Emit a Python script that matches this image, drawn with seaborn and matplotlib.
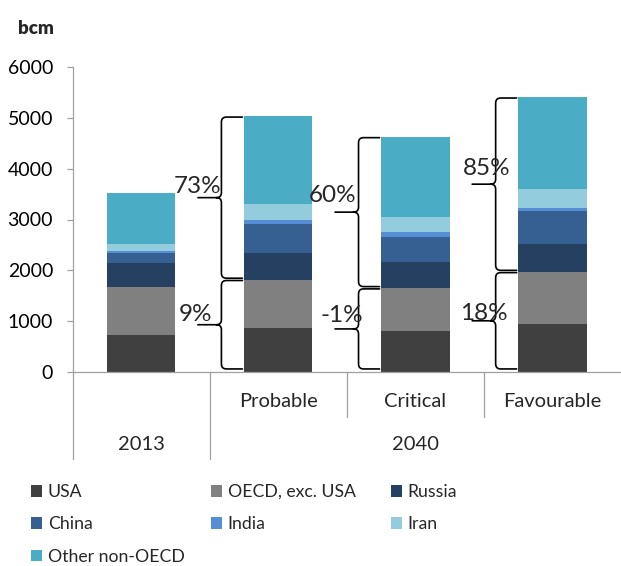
import numpy as np
import matplotlib
matplotlib.use("Agg")
import matplotlib.pyplot as plt
from matplotlib.path import Path
from matplotlib.patches import PathPatch, Patch
import seaborn as sns

# ---- data (bcm) ----
scenarios = ["2013", "Probable", "Critical", "Favourable"]
scenario_labels = ["", "Probable", "Critical", "Favourable"]
year_groups = ["2013", "2040"]
regions = ["USA", "OECD, exc. USA", "Russia", "China", "India", "Iran", "Other non-OECD"]

usa = [730, 860, 800, 945]
oecd_ex_usa = [940, 955, 850, 1025]
russia = [470, 525, 505, 555]
china = [200, 570, 505, 650]
india = [45, 85, 85, 60]
iran = [130, 315, 295, 370]
other_non_oecd = [1015, 1725, 1590, 1805]

colors = ["#404040", "#808080", "#254061", "#376092", "#558ED5", "#93CDDD", "#4BACC6"]
yticks = [0, 1000, 2000, 3000, 4000, 5000, 6000]

sns.set_style("white")
plt.rcParams["font.family"] = ["Lato", "DejaVu Sans"]

W, H = 621, 566
fig = plt.figure(figsize=(W / 100, H / 100), dpi=100)
ax_left, ax_bottom, ax_top = 72.5, 372, 67
ax = fig.add_axes([ax_left / W, (H - ax_bottom) / H, (W - ax_left) / W, (ax_bottom - ax_top) / H])

layers = np.array([usa, oecd_ex_usa, russia, china, india, iran, other_non_oecd], dtype=float)
cum = layers.cumsum(axis=0)

# stacked bars: draw cumulative totals from the top layer down
for k in range(len(regions) - 1, -1, -1):
    sns.barplot(x=scenarios, y=cum[k], order=scenarios, color=colors[k], width=0.5,
                saturation=1, linewidth=0, errorbar=None, ax=ax)

ax.set_xlim(-0.5, 3.5)
ax.set_ylim(0, 6000)
ax.set_yticks(yticks)
ax.set_yticklabels([str(t) for t in yticks])
ax.set_xlabel("")
ax.set_ylabel("")
ax.set_xticks([])

axis_grey = "#A0A0A0"
for side in ["top", "right"]:
    ax.spines[side].set_visible(False)
for side in ["left", "bottom"]:
    ax.spines[side].set_color(axis_grey)
    ax.spines[side].set_linewidth(0.9)
ax.tick_params(axis="y", direction="out", length=4, width=0.9, color=axis_grey,
               pad=10, labelsize=14, labelcolor="black", left=True)

# pixel -> data helpers
px_x = 4.0 / (W - ax_left)
px_y = 6000.0 / (ax_bottom - ax_top)

# category axis: separators and two label rows
xtr = ax.get_xaxis_transform()
for xs, depth in [(-0.5, -0.285), (0.5, -0.285), (1.5, -0.147), (2.5, -0.147)]:
    ax.plot([xs, xs], [0, depth], transform=xtr, clip_on=False, color=axis_grey, lw=0.9)
for i, lab in enumerate(scenario_labels):
    if lab:
        ax.text(i, -0.097, lab, transform=xtr, ha="center", va="center", fontsize=14.5)
ax.text(0, -0.239, year_groups[0], transform=xtr, ha="center", va="center", fontsize=14.5)
ax.text(2, -0.239, year_groups[1], transform=xtr, ha="center", va="center", fontsize=14.5)

fig.text(36 / W, 1 - 28 / H, "bcm", ha="center", va="center", fontsize=13.5, fontweight="heavy")


def draw_brace(ax, x_line, x_right, x_tip, y0, y1, rx, ry):
    mid = (y0 + y1) / 2
    verts = [
        (x_right, y1), (x_line + rx, y1),
        (x_line, y1), (x_line, y1 - ry),
        (x_line, mid + ry),
        (x_line, mid), (x_line - rx, mid),
        (x_tip, mid),
        (x_line - rx, mid),
        (x_line, mid), (x_line, mid - ry),
        (x_line, y0 + ry),
        (x_line, y0), (x_line + rx, y0),
        (x_right, y0),
    ]
    codes = [
        Path.MOVETO, Path.LINETO,
        Path.CURVE3, Path.CURVE3,
        Path.LINETO,
        Path.CURVE3, Path.CURVE3,
        Path.LINETO,
        Path.MOVETO,
        Path.CURVE3, Path.CURVE3,
        Path.LINETO,
        Path.CURVE3, Path.CURVE3,
        Path.LINETO,
    ]
    ax.add_patch(PathPatch(Path(verts, codes), fill=False, edgecolor="black", lw=1.2,
                           capstyle="round", joinstyle="round", clip_on=False))
    return mid


oecd_total = cum[1]
grand_total = cum[-1]
non_oecd_total = grand_total - oecd_total

# label offsets in pixels (right edge vs. brace line, baseline above tip)
label_offsets = {
    (1, "upper"): (0, 5), (1, "lower"): (-9, 4),
    (2, "upper"): (-2, 10), (2, "lower"): (5, 6.5),
    (3, "upper"): (15, 9), (3, "lower"): (12, 1),
}

for i in range(1, len(scenarios)):
    bar_left = i - 0.25
    x_right = bar_left - 1.5 * px_x
    x_line = bar_left - 22.5 * px_x
    x_tip = bar_left - 46 * px_x
    rx, ry = 5 * px_x, 5 * px_y
    spans = {
        "lower": (60, oecd_total[i] - 15,
                  100 * (oecd_total[i] / oecd_total[0] - 1)),
        "upper": (oecd_total[i] + 30, grand_total[i] - 20,
                  100 * (non_oecd_total[i] / non_oecd_total[0] - 1)),
    }
    for part, (y0, y1, pct) in spans.items():
        mid = draw_brace(ax, x_line, x_right, x_tip, y0, y1, rx, ry)
        dx, dy = label_offsets[(i, part)]
        ax.annotate(f"{int(round(pct))}%", xy=(x_line, mid), xytext=(dx * 0.72, dy * 0.72),
                    textcoords="offset points", ha="right", va="baseline", fontsize=17.5,
                    annotation_clip=False)

# legend laid out in three columns, filled row by row
handles = [Patch(facecolor=c, edgecolor="none", label=r) for c, r in zip(colors, regions)]
col_x = [31, 211, 391]
for c, x0 in enumerate(col_x):
    col_handles = handles[c::3]
    fig.legend(handles=col_handles, loc="upper left", bbox_to_anchor=(x0 / W, 1 - 484 / H),
               frameon=False, fontsize=12.7, handlelength=0.65, handleheight=0.65,
               handletextpad=0.3, labelspacing=0.93, borderpad=0, borderaxespad=0)

fig.savefig("out.png", dpi=100)
